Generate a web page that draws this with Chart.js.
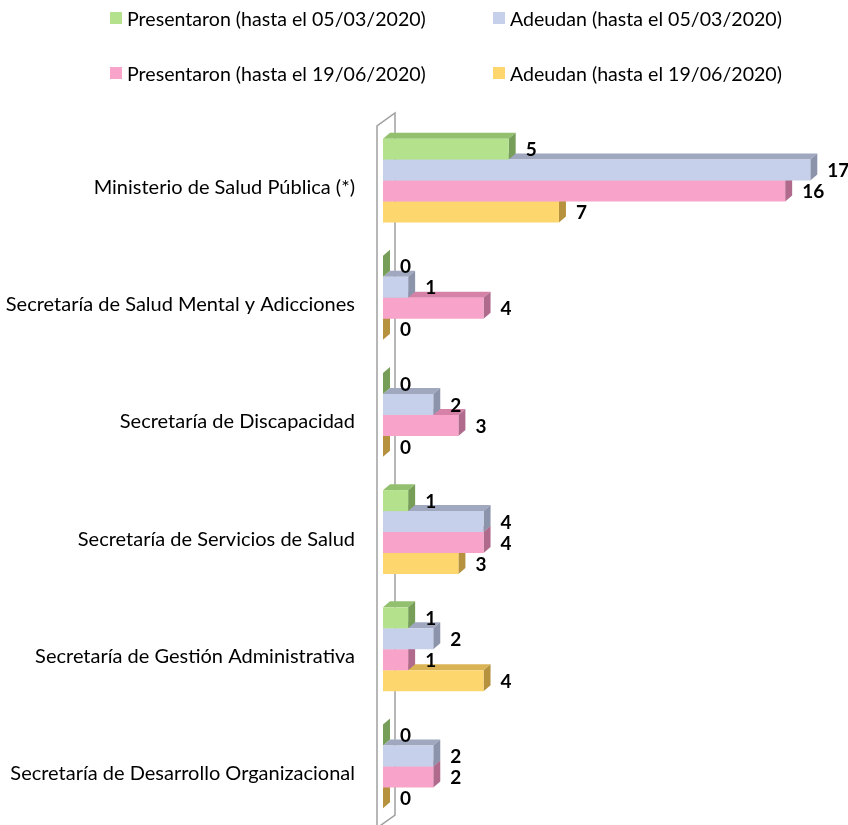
<!DOCTYPE html>
<html>
<head>
<meta charset="utf-8">
<script src="https://cdn.jsdelivr.net/npm/chart.js@4"></script>
<style>
  body { margin: 0; background: #fff; overflow: hidden; }
  #wrap { position: relative; width: 848px; height: 825px; }
  #chart { display: block; }
  #legend { position: absolute; left: 0; top: 0; width: 848px; height: 100px; font: 19.6px Lato, sans-serif; color: #000; }
  .item { position: absolute; display: flex; align-items: center; white-space: nowrap; }
  .box { width: 12px; height: 12px; margin-right: 5px; }
</style>
</head>
<body>
<div id="wrap">
  <canvas id="chart" width="848" height="825"></canvas>
  <div id="legend"></div>
</div>
<script>
const categories = [
  'Ministerio de Salud Pública (*)',
  'Secretaría de Salud Mental y Adicciones',
  'Secretaría de Discapacidad',
  'Secretaría de Servicios de Salud',
  'Secretaría de Gestión Administrativa',
  'Secretaría de Desarrollo Organizacional',
]
const seriesLabels = [
  'Presentaron (hasta el 05/03/2020)',
  'Adeudan (hasta el 05/03/2020)',
  'Presentaron (hasta el 19/06/2020)',
  'Adeudan (hasta el 19/06/2020)',
]
const presentaron0503 = [5, 0, 0, 1, 1, 0]
const adeudan0503 = [17, 1, 2, 4, 2, 2]
const presentaron1906 = [16, 4, 3, 4, 1, 2]
const adeudan1906 = [7, 0, 0, 3, 4, 0]

const colors = {
  front: ['rgb(180,226,140)', 'rgb(198,208,234)', 'rgb(248,163,202)', 'rgb(254,214,110)'],
  top: ['rgb(146,192,110)', 'rgb(160,168,192)', 'rgb(214,130,168)', 'rgb(218,180,84)'],
  side: ['rgb(118,158,88)', 'rgb(140,148,172)', 'rgb(176,106,140)', 'rgb(182,146,62)'],
}

const DX = 7
const DY = -6

// back wall + 3d faces of the bars, drawn before the fronts
const depth = {
  id: 'depth',
  beforeDatasetsDraw(chart) {
    const { ctx, chartArea } = chart
    const l = chartArea.left
    ctx.save()
    ctx.strokeStyle = 'rgb(160,160,160)'
    ctx.lineWidth = 1.5
    ctx.beginPath()
    ctx.moveTo(l - 6, chartArea.bottom + 6)
    ctx.lineTo(l - 6, chartArea.top + 4)
    ctx.lineTo(l + 12, chartArea.top - 9)
    ctx.lineTo(l + 12, chartArea.bottom - 10)
    ctx.lineTo(l - 6, chartArea.bottom + 3)
    ctx.stroke()

    for (let d = chart.data.datasets.length - 1; d >= 0; d--) {
      const meta = chart.getDatasetMeta(d)
      meta.data.forEach((bar) => {
        const { x, y, base, height } = bar.getProps(['x', 'y', 'base', 'height'], true)
        const top = y - height / 2
        const bottom = y + height / 2
        ctx.fillStyle = colors.top[d]
        ctx.beginPath()
        ctx.moveTo(base, top)
        ctx.lineTo(x, top)
        ctx.lineTo(x + DX, top + DY)
        ctx.lineTo(base + DX, top + DY)
        ctx.closePath()
        ctx.fill()
        ctx.fillStyle = colors.side[d]
        ctx.beginPath()
        ctx.moveTo(x, top)
        ctx.lineTo(x + DX, top + DY)
        ctx.lineTo(x + DX, bottom + DY)
        ctx.lineTo(x, bottom)
        ctx.closePath()
        ctx.fill()
      })
    }
    ctx.restore()
  },
  afterDatasetsDraw(chart) {
    const { ctx } = chart
    ctx.save()
    ctx.font = 'bold 19px Lato, sans-serif'
    ctx.fillStyle = '#000'
    ctx.textAlign = 'left'
    ctx.textBaseline = 'middle'
    chart.data.datasets.forEach((ds, d) => {
      chart.getDatasetMeta(d).data.forEach((bar, i) => {
        const { x, y } = bar.getProps(['x', 'y'], true)
        ctx.fillText(String(ds.data[i]), x + 17, y + 1)
      })
    })
    ctx.restore()
  },
}

const series = [presentaron0503, adeudan0503, presentaron1906, adeudan1906]

const chart = new Chart(document.getElementById('chart'), {
  type: 'bar',
  data: {
    labels: categories,
    datasets: series.map((data, i) => ({
      label: seriesLabels[i],
      data,
      backgroundColor: colors.front[i],
      borderWidth: 0,
      barPercentage: 1,
      categoryPercentage: 0.716,
    })),
  },
  options: {
    indexAxis: 'y',
    responsive: false,
    animation: false,
    layout: { padding: { top: 122, right: 0, bottom: 0, left: 0 } },
    plugins: {
      legend: { display: false },
      tooltip: { enabled: false },
    },
    scales: {
      x: { display: false, min: 0, max: 18.5 },
      y: {
        grid: { display: false, drawTicks: false },
        border: { display: false },
        ticks: {
          padding: 28,
          labelOffset: 7,
          color: '#000',
          font: { family: 'Lato, sans-serif', size: 20 },
        },
        afterFit(scale) {
          scale.width = 383
          scale.paddingTop = 0
          scale.paddingBottom = 0
        },
      },
    },
  },
  plugins: [depth],
})

// legend, two rows of two
const legendPos = [[110, 18], [493, 18], [110, 73], [493, 73]]
const legend = document.getElementById('legend')
chart.data.datasets.forEach((ds, i) => {
  const item = document.createElement('div')
  item.className = 'item'
  item.style.left = legendPos[i][0] + 'px'
  item.style.top = (legendPos[i][1] - 11) + 'px'
  item.style.height = '22px'
  item.innerHTML = '<span class="box" style="background:' + ds.backgroundColor + '"></span>' + ds.label
  legend.appendChild(item)
})
</script>
</body>
</html>
